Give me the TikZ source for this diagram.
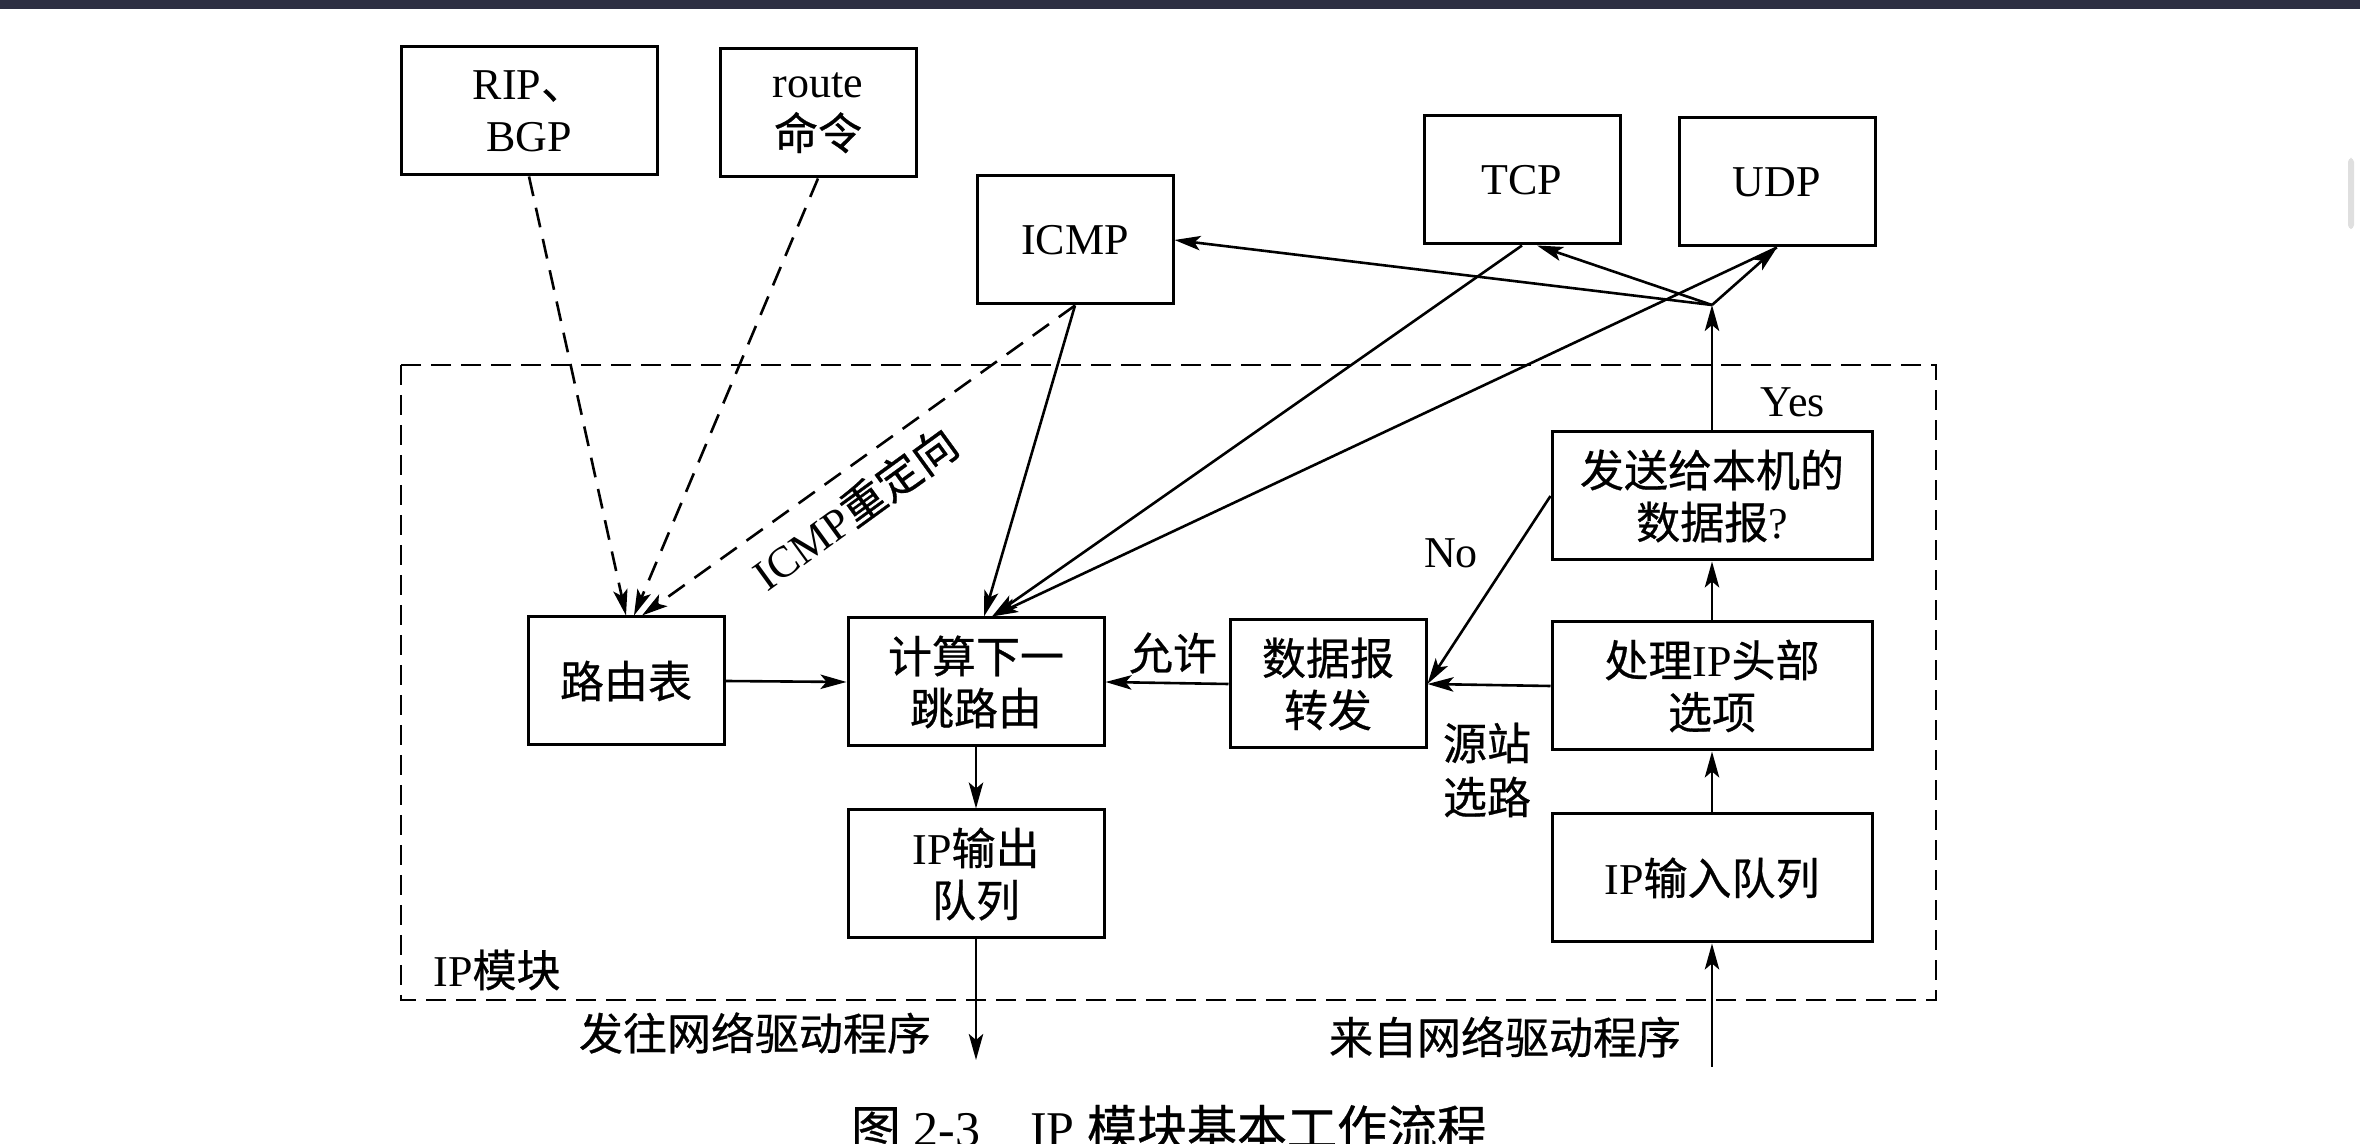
\documentclass[tikz,border=0pt]{standalone}
\usepackage{fontspec}
\setmainfont{Liberation Serif}
\newfontfamily\zh{Noto Sans CJK SC}[FakeBold=0.6]
\usepackage{xcolor}
\usetikzlibrary{arrows.meta,calc}
\definecolor{framebar}{RGB}{45,47,66}

\tikzset{
  blk/.style={draw, line width=0.75pt, inner sep=0pt, minimum height=32pt, align=center, font=\fontsize{11}{13}\selectfont},
  narrowblk/.style={blk, minimum width=49pt},
  midblk/.style={blk, minimum width=64pt},
  wideblk/.style={blk, minimum width=80pt},
  lbl/.style={inner sep=0pt, align=center, font=\fontsize{11}{13.5}\selectfont},
  flow/.style={line width=0.65pt, -{Stealth[length=6.5pt,width=3.6pt,inset=1.5pt]}},
  dashflow/.style={flow, dash pattern=on 5pt off 3pt},
}

\begin{document}
\begin{tikzpicture}[x=0.25pt, y=-0.25pt]
  \useasboundingbox (0,0) rectangle (2360,1144);

  % window frame
  \fill[framebar] (0,0) rectangle (2360,9);
  \fill[gray!25, rounded corners=1pt] (2348,158) rectangle (2354,229);

  % IP module frame
  \draw[line width=0.65pt, dash pattern=on 5pt off 2.5pt] (401,365) rectangle (1936,1000);
  \node[lbl] (modname) at (497,970) {IP{\zh 模块}};

  % blocks outside the module
  \node[midblk] (rip) at (529,111) {RIP{\zh 、}\\BGP};
  \node[narrowblk] (route) at (818,113) {route\\{\zh 命令}};
  \node[narrowblk] (icmp) at (1075,240) {ICMP};
  \node[narrowblk] (tcp) at (1522,180) {TCP};
  \node[narrowblk] (udp) at (1777,182) {UDP};

  % blocks inside the module
  \node[narrowblk] (rtable) at (626,681) {\zh 路由表};
  \node[midblk] (nexthop) at (976,682) {\zh 计算下一\\\zh 跳路由};
  \node[narrowblk] (fwd) at (1328,684) {\zh 数据报\\\zh 转发};
  \node[wideblk] (opts) at (1712,686) {{\zh 处理}IP{\zh 头部}\\\zh 选项};
  \node[wideblk] (local) at (1712,496) {\zh 发送给本机的\\{\zh 数据报}?};
  \node[midblk] (outq) at (976,874) {IP{\zh 输出}\\\zh 队列};
  \node[wideblk] (inq) at (1712,878) {IP{\zh 输入队列}};

  % route sources
  \draw[dashflow] (rip.south) -- (rtable.north);
  \draw[dashflow] (route.south) -- ([xshift=2pt]rtable.north);
  \draw[dashflow] (icmp.south) -- ([xshift=4pt]rtable.north);
  \node[lbl, rotate=36] (redir) at (855,508) {ICMP{\zh 重定向}};

  % into next hop
  \draw[flow] (icmp.south) -- ([xshift=2pt]nexthop.north);
  \draw[flow] (tcp.south) -- ([xshift=4pt]nexthop.north);
  \draw[flow] (udp.south) -- ([xshift=4pt]nexthop.north);
  \draw[flow] (rtable.east) -- (nexthop.west);
  \draw[flow] (fwd.west) -- (nexthop.east);
  \node[lbl] (allow) at (1173,653) {\zh 允许};
  \draw[flow] (nexthop.south) -- (outq.north);

  % input side
  \coordinate (fromdrv) at (1712,1067);
  \draw[flow] (fromdrv) -- (inq.south);
  \draw[flow] (inq.north) -- (opts.south);
  \draw[flow] (opts.north) -- (local.south);
  \draw[flow] (opts.west) -- (fwd.east);
  \node[lbl] (srcroute) at (1487,770) {\zh 源站\\\zh 选路};
  \draw[flow] (local.west) -- (fwd.east);
  \node[lbl] (no) at (1451,553) {No};

  % delivered locally
  \coordinate (fork) at (1712,305);
  \draw[flow] (local.north) -- (fork);
  \node[lbl] (yes) at (1793,402) {Yes};
  \draw[flow] (fork) -- (icmp.east);
  \draw[flow] (fork) -- ($(tcp.south)+(15,0)$);
  \draw[flow] (fork) -- (udp.south);

  % output side
  \coordinate (todrv) at (976,1060);
  \draw[flow] (outq.south) -- (todrv);
  \node[lbl] (tolbl) at (755,1033) {\zh 发往网络驱动程序};
  \node[lbl] (fromlbl) at (1505,1037) {\zh 来自网络驱动程序};

  % caption
  \node[inner sep=0pt, font=\fontsize{12.5}{15}\selectfont] (caption) at (1169,1128) {{\zh 图} 2-3\quad IP {\zh 模块基本工作流程}};
\end{tikzpicture}
\end{document}
